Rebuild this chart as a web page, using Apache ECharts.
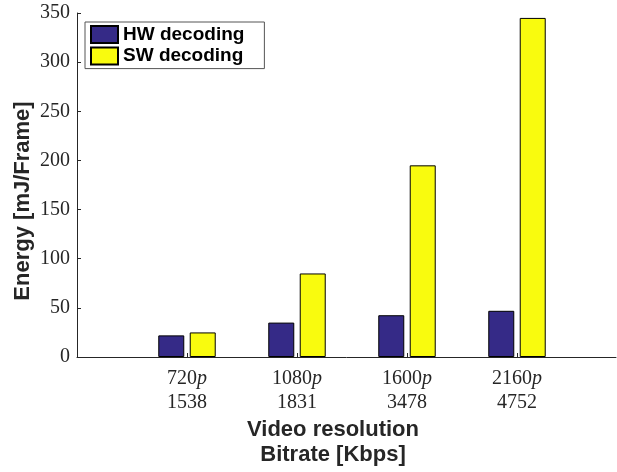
<!DOCTYPE html>
<html>
<head>
<meta charset="utf-8">
<script src="https://cdn.jsdelivr.net/npm/echarts@6/dist/echarts.min.js"></script>
<style>
  html, body { margin: 0; padding: 0; background: #fff; }
  #chart { width: 617px; height: 472px; }
</style>
</head>
<body>
<div id="chart"></div>
<script>
// resolutions (the "p" is drawn in italics) and bitrates in Kbps
const resolutions = ["720", "1080", "1600", "2160"];
const bitrates = ["1538", "1831", "3478", "4752"];
const hwEnergy = [22, 35, 42.5, 47];
const swEnergy = [25, 85, 195, 345];
const seriesNames = ["HW decoding", "SW decoding"];

const axisColor = "#262626";
const positions = resolutions.map((r, i) => i + 1);

let myChart = echarts.init(document.getElementById("chart"));
const option = {
  animation: false,
  grid: {
    left: 77, right: 1, top: 13, bottom: 115,
    containLabel: false,
    outerBoundsMode: "none",
  },
  legend: {
    orient: "vertical",
    left: 85,
    top: 22,
    padding: [3, 20, 3, 5],
    itemGap: 2.6,
    itemWidth: 27,
    itemHeight: 17,
    borderColor: "#555",
    borderWidth: 1,
    borderRadius: 0,
    icon: "rect",
    textStyle: {
      fontFamily: "Liberation Sans",
      fontWeight: "bold",
      fontSize: 19,
      lineHeight: 19,
      color: "#000",
    },
    data: seriesNames,
  },
  xAxis: {
    type: "value",
    min: 0,
    max: 4.9,
    interval: 1,
    splitLine: { show: false },
    axisLine: { lineStyle: { color: axisColor, width: 1 } },
    axisTick: {
      inside: true,
      length: 4,
      customValues: positions,
      lineStyle: { color: axisColor },
    },
    axisLabel: {
      customValues: positions,
      margin: 10,
      formatter: (v) => {
        const i = Math.round(v) - 1;
        if (i < 0 || i >= resolutions.length) return "";
        return "{r|" + resolutions[i] + "}{i|p}\n{r|" + bitrates[i] + "}";
      },
      rich: {
        r: { fontFamily: "Liberation Serif", fontSize: 20, lineHeight: 24, color: axisColor },
        i: { fontFamily: "Liberation Serif", fontStyle: "italic", fontSize: 20, lineHeight: 24, color: axisColor },
      },
    },
    name: "Video resolution\nBitrate [Kbps]",
    nameLocation: "middle",
    nameMoveOverlap: false,
    nameGap: 60,
    nameTextStyle: {
      fontFamily: "Liberation Sans",
      fontWeight: "bold",
      fontSize: 22,
      lineHeight: 25,
      color: axisColor,
      padding: [0, 27, 0, 0],
    },
  },
  yAxis: {
    type: "value",
    min: 0,
    max: 350,
    interval: 50,
    splitLine: { show: false },
    axisLine: { show: true, lineStyle: { color: axisColor, width: 1 } },
    axisTick: { show: true, inside: true, length: 4, lineStyle: { color: axisColor } },
    axisLabel: {
      margin: 7,
      fontFamily: "Liberation Serif",
      fontSize: 20,
      color: axisColor,
    },
    name: "Energy [mJ/Frame]",
    nameLocation: "middle",
    nameMoveOverlap: false,
    nameGap: 43,
    nameTextStyle: {
      fontFamily: "Liberation Sans",
      fontWeight: "bold",
      fontSize: 22,
      color: axisColor,
      padding: [0, 32, 0, 0],
    },
  },
  series: [
    {
      name: seriesNames[0],
      type: "bar",
      barWidth: 26,
      barGap: "21%",
      itemStyle: { color: "#352a87", borderColor: "#000", borderWidth: 1 },
      data: positions.map((x, i) => [x, hwEnergy[i]]),
    },
    {
      name: seriesNames[1],
      type: "bar",
      barWidth: 26,
      barGap: "21%",
      itemStyle: { color: "#f9fb0e", borderColor: "#000", borderWidth: 1 },
      data: positions.map((x, i) => [x, swEnergy[i]]),
    },
  ],
};
myChart.setOption(option);
</script>
</body>
</html>
